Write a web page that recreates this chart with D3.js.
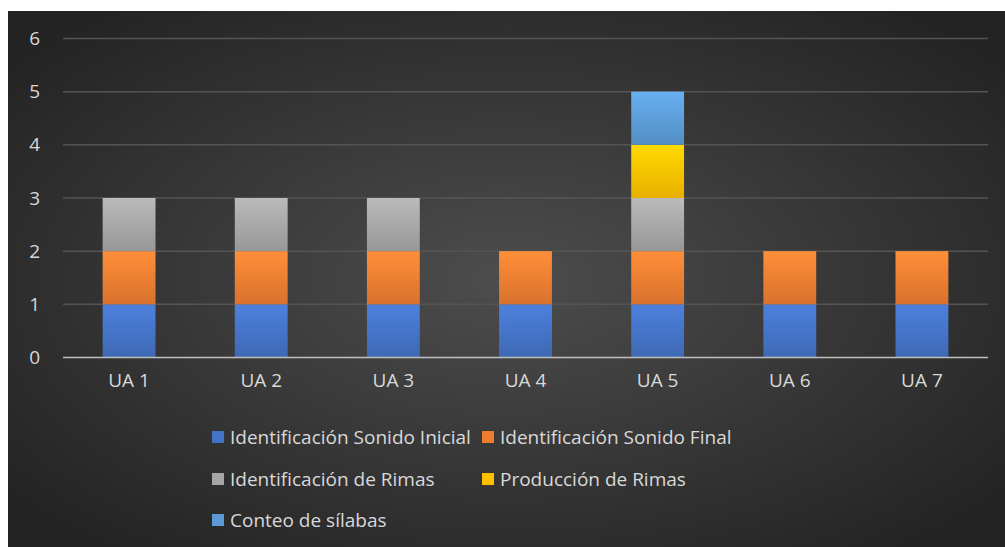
<!DOCTYPE html>
<html>
<head>
<meta charset="utf-8">
<script src="https://cdn.jsdelivr.net/npm/d3@7"></script>
<style>
  body { margin: 0; background: #fff; }
  svg { display: block; }
  text { font-family: "Open Sans", "Noto Sans", sans-serif; }
</style>
</head>
<body>
<script>
"use strict";
// categories and series
const categories = ["UA 1", "UA 2", "UA 3", "UA 4", "UA 5", "UA 6", "UA 7"]
const seriesNames = [
    "Identificación Sonido Inicial",
    "Identificación Sonido Final",
    "Identificación de Rimas",
    "Producción de Rimas",
    "Conteo de sílabas"
]
const sonidoInicial = [1, 1, 1, 1, 1, 1, 1]
const sonidoFinal = [1, 1, 1, 1, 1, 1, 1]
const identRimas = [1, 1, 1, 0, 1, 0, 0]
const prodRimas = [0, 0, 0, 0, 1, 0, 0]
const conteo = [0, 0, 0, 0, 1, 0, 0]
const yTicks = [0, 1, 2, 3, 4, 5, 6]

const seriesValues = [sonidoInicial, sonidoFinal, identRimas, prodRimas, conteo]
const colors = ["#4472C4", "#ED7D31", "#A5A5A5", "#FFC000", "#5B9BD5"]

const measurements = {
    width: 1005,
    height: 547,
    top: 11,
    left: 8
}

const svg = d3.select("body").append("svg")
    .attr("width", measurements.width)
    .attr("height", measurements.height)

const defs = svg.append("defs")

// background radial gradient
const bg = defs.append("radialGradient")
    .attr("id", "bg")
    .attr("cx", "50%").attr("cy", "50%").attr("r", "65%")
bg.append("stop").attr("offset", "0%").attr("stop-color", "#4d4d4d")
bg.append("stop").attr("offset", "100%").attr("stop-color", "#232323")

// per series bar gradients
colors.forEach((c, i) => {
    const g = defs.append("linearGradient")
        .attr("id", "g" + i)
        .attr("x1", 0).attr("y1", 0).attr("x2", 0).attr("y2", 1)
    g.append("stop").attr("offset", "0%").attr("stop-color", d3.color(c).brighter(0.35))
    g.append("stop").attr("offset", "100%").attr("stop-color", d3.color(c).darker(0.25))
})

svg.append("rect")
    .attr("x", measurements.left)
    .attr("y", measurements.top)
    .attr("width", measurements.width - measurements.left)
    .attr("height", measurements.height - measurements.top)
    .attr("fill", "url(#bg)")

const scaleX = d3.scaleBand()
    .domain(categories)
    .range([63, 988])
    .paddingInner(0.6)
    .paddingOuter(0.3)

const scaleY = d3.scaleLinear()
    .domain([0, 6])
    .range([357.5, 38.5])

// gridlines
svg.append("g")
    .selectAll("line")
    .data(yTicks.filter(d => d > 0))
    .enter()
    .append("line")
        .attr("x1", 63)
        .attr("x2", 988)
        .attr("y1", d => scaleY(d))
        .attr("y2", d => scaleY(d))
        .attr("stroke", "#545454")
        .attr("stroke-width", 1.5)

// stacked data
const table = categories.map((cat, i) => {
    const row = { cat: cat }
    seriesNames.forEach((s, j) => row[s] = seriesValues[j][i])
    return row
})
const stacked = d3.stack().keys(seriesNames)(table)

svg.append("g")
    .selectAll("g")
    .data(stacked)
    .enter()
    .append("g")
        .attr("fill", (d, i) => "url(#g" + i + ")")
    .selectAll("rect")
    .data(d => d.filter(p => p[1] - p[0] > 0))
    .enter()
    .append("rect")
        .attr("x", d => scaleX(d.data.cat))
        .attr("width", scaleX.bandwidth())
        .attr("y", d => scaleY(d[1]))
        .attr("height", d => scaleY(d[0]) - scaleY(d[1]))

// baseline
svg.append("line")
    .attr("x1", 63).attr("x2", 988)
    .attr("y1", scaleY(0)).attr("y2", scaleY(0))
    .attr("stroke", "#bfbfbf")
    .attr("stroke-width", 1.5)

// y axis labels
const yAxis = d3.axisLeft(scaleY).tickValues(yTicks).tickFormat(d3.format("d")).tickSize(0).tickPadding(0)
const yg = svg.append("g")
    .attr("transform", "translate(40,0)")
    .call(yAxis)
yg.select(".domain").remove()
yg.selectAll("text")
    .attr("fill", "#d9d9d9")
    .style("font-size", "19px")

// x axis labels
const xAxis = d3.axisBottom(scaleX).tickSize(0).tickPadding(0)
const xg = svg.append("g")
    .attr("transform", "translate(0,373)")
    .call(xAxis)
xg.select(".domain").remove()
xg.selectAll("text")
    .attr("fill", "#d9d9d9")
    .style("font-size", "19px")

// legend
const legendPos = [[212, 437], [482, 437], [212, 479], [482, 479], [212, 520]]
const legend = svg.selectAll(".legend")
    .data(seriesNames)
    .enter()
    .append("g")
        .attr("class", "legend")
        .attr("transform", (d, i) => "translate(" + legendPos[i][0] + "," + legendPos[i][1] + ")")

legend.append("rect")
    .attr("x", 0)
    .attr("y", -6)
    .attr("width", 12)
    .attr("height", 12)
    .attr("fill", (d, i) => colors[i])

legend.append("text")
    .attr("x", 18)
    .attr("y", 0)
    .attr("dy", ".35em")
    .attr("fill", "#d9d9d9")
    .style("font-size", "19px")
    .text(d => d)
</script>
</body>
</html>
